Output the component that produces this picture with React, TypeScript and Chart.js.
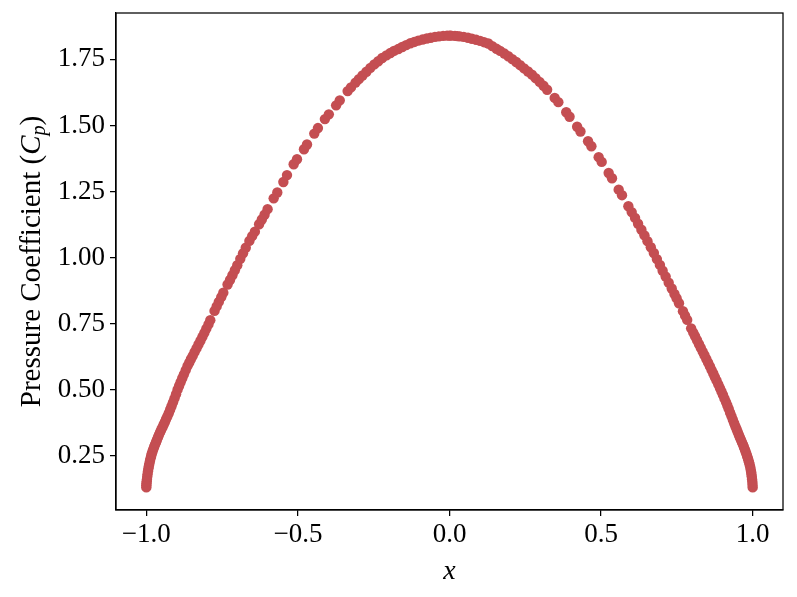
import React, { useEffect, useRef } from "react";
import { Chart, registerables } from "chart.js";

Chart.register(...registerables);

// Left half of the curve (x from -1 towards 0)
const X_LEFT = [
  -1.0, -0.9995, -0.998, -0.996, -0.993, -0.99, -0.986, -0.982, -0.977, -0.971,
  -0.965, -0.958, -0.951, -0.943, -0.935, -0.926, -0.917, -0.907, -0.897, -0.887,
  -0.876, -0.864, -0.853, -0.841, -0.828, -0.815, -0.802, -0.789, -0.775, -0.761,
  -0.746, -0.732, -0.716, -0.7, -0.69, -0.672, -0.66, -0.642, -0.628, -0.61,
  -0.6, -0.58, -0.568, -0.548, -0.536, -0.514, -0.503, -0.48, -0.47, -0.446,
  -0.434, -0.411, -0.398, -0.374, -0.362, -0.336, -0.325, -0.299, -0.287, -0.261,
  -0.248, -0.222, -0.208, -0.183, -0.169, -0.143, -0.129, -0.103, -0.089, -0.062,
  -0.048, -0.021, -0.008,
];
const CP_LEFT = [
  0.13, 0.145, 0.16, 0.18, 0.202, 0.22, 0.24, 0.258, 0.275, 0.293,
  0.31, 0.33, 0.348, 0.367, 0.388, 0.411, 0.437, 0.467, 0.5, 0.528,
  0.558, 0.59, 0.615, 0.642, 0.671, 0.7, 0.731, 0.763, 0.798, 0.832,
  0.867, 0.898, 0.933, 0.971, 0.995, 1.037, 1.063, 1.098, 1.126, 1.162,
  1.183, 1.224, 1.246, 1.286, 1.312, 1.353, 1.372, 1.41, 1.428, 1.469,
  1.49, 1.524, 1.542, 1.576, 1.595, 1.63, 1.644, 1.675, 1.689, 1.718,
  1.731, 1.755, 1.765, 1.782, 1.789, 1.804, 1.811, 1.821, 1.825, 1.832,
  1.835, 1.839, 1.84,
];

// Right half of the curve (x from 0 towards 1)
const X_RIGHT = [
  0.005, 0.018, 0.034, 0.047, 0.074, 0.088, 0.114, 0.128, 0.155, 0.167,
  0.194, 0.207, 0.233, 0.246, 0.272, 0.284, 0.31, 0.322, 0.347, 0.359,
  0.385, 0.396, 0.421, 0.432, 0.457, 0.468, 0.492, 0.502, 0.525, 0.536,
  0.558, 0.569, 0.59, 0.601, 0.622, 0.633, 0.653, 0.664, 0.684, 0.694,
  0.713, 0.723, 0.742, 0.757, 0.77, 0.784, 0.797, 0.81, 0.823, 0.835,
  0.847, 0.859, 0.87, 0.881, 0.892, 0.902, 0.912, 0.921, 0.93, 0.939,
  0.947, 0.954, 0.961, 0.968, 0.974, 0.979, 0.984, 0.988, 0.992, 0.995,
  0.997, 0.999, 1.0,
];
const CP_RIGHT = [
  1.84, 1.839, 1.837, 1.835, 1.828, 1.824, 1.815, 1.81, 1.79, 1.782,
  1.762, 1.751, 1.728, 1.716, 1.692, 1.679, 1.65, 1.635, 1.604, 1.588,
  1.55, 1.533, 1.495, 1.477, 1.44, 1.421, 1.38, 1.362, 1.32, 1.3,
  1.257, 1.236, 1.194, 1.172, 1.128, 1.105, 1.062, 1.039, 0.994, 0.972,
  0.928, 0.905, 0.862, 0.827, 0.797, 0.764, 0.732, 0.702, 0.672, 0.644,
  0.616, 0.588, 0.561, 0.534, 0.506, 0.48, 0.453, 0.427, 0.4, 0.373,
  0.35, 0.33, 0.311, 0.292, 0.274, 0.258, 0.241, 0.225, 0.207, 0.188,
  0.17, 0.15, 0.13,
];

// Additional samples where the reference points are packed tightly
const X_EXTRA = [
  -0.9998, -0.9988, -0.997, -0.9945, -0.9915, -0.988, -0.984, -0.9795, -0.974, -0.968,
  -0.9615, -0.9545, -0.947, -0.939, -0.9305, -0.9215, -0.912, -0.902, -0.892, -0.8815,
  -0.87, -0.8585, -0.847, -0.8345, -0.8215, -0.8085,
  -0.795, -0.768, -0.753, -0.724, -0.708, -0.681, -0.651, -0.619,
  -0.31, -0.274,
  -0.235, -0.195, -0.156, -0.116, -0.075, -0.035, 0.0, 0.026, 0.061, 0.101, 0.141, 0.181, 0.22,
  0.259, 0.297,
  0.612, 0.643, 0.674, 0.703, 0.733, 0.749, 0.777, 0.804,
  0.8165, 0.829, 0.841, 0.853, 0.8645, 0.8755, 0.8865, 0.897, 0.907, 0.9165,
  0.9255, 0.9345, 0.943, 0.9505, 0.9575, 0.9645, 0.971, 0.9765, 0.9815, 0.986,
  0.99, 0.9935, 0.996, 0.998, 0.9995,
];
const CP_EXTRA = [
  0.138, 0.152, 0.17, 0.191, 0.211, 0.23, 0.249, 0.266, 0.284, 0.301,
  0.32, 0.339, 0.357, 0.377, 0.399, 0.424, 0.452, 0.483, 0.514, 0.543,
  0.574, 0.602, 0.628, 0.656, 0.685, 0.715,
  0.747, 0.815, 0.85, 0.915, 0.952, 1.016, 1.081, 1.144,
  1.662, 1.703,
  1.743, 1.774, 1.797, 1.816, 1.829, 1.837, 1.84, 1.838, 1.832, 1.82, 1.8, 1.772, 1.74,
  1.704, 1.665,
  1.15, 1.084, 1.017, 0.95, 0.883, 0.846, 0.78, 0.716,
  0.687, 0.658, 0.63, 0.602, 0.574, 0.547, 0.52, 0.493, 0.466, 0.44,
  0.413, 0.386, 0.361, 0.34, 0.32, 0.301, 0.283, 0.266, 0.249, 0.233,
  0.216, 0.197, 0.179, 0.16, 0.14,
];

const X_TICKS = [-1.0, -0.5, 0.0, 0.5, 1.0];
const Y_TICKS = [0.25, 0.5, 0.75, 1.0, 1.25, 1.5, 1.75];

const FONT = '"Liberation Serif", "Times New Roman", serif';
const POINT_COLOR = "#c44e52";

const fmt = (v: number, d: number) => {
  const s = Math.abs(v).toFixed(d);
  return v < -1e-9 ? "\u2212" + s : s;
};

const titlePlugin = {
  id: "frameAndTitles",
  afterDraw(chart: any) {
    const { ctx, chartArea } = chart;
    const { left, top, right, bottom } = chartArea;
    ctx.save();
    ctx.strokeStyle = "#000";
    ctx.lineWidth = 1.25;
    ctx.strokeRect(left, top, right - left, bottom - top);

    // x axis title
    ctx.fillStyle = "#000";
    ctx.font = `italic 28px ${FONT}`;
    ctx.textAlign = "center";
    ctx.textBaseline = "alphabetic";
    ctx.fillText("x", (left + right) / 2, 579);

    // y axis title with italic C and subscript p
    const parts = [
      { t: "Pressure Coefficient (", f: `29px ${FONT}`, dy: 0 },
      { t: "C", f: `italic 29px ${FONT}`, dy: 0 },
      { t: "p", f: `italic 20px ${FONT}`, dy: 5 },
      { t: ")", f: `29px ${FONT}`, dy: 0 },
    ];
    let total = 0;
    const widths: number[] = [];
    for (const p of parts) {
      ctx.font = p.f;
      const w = ctx.measureText(p.t).width;
      widths.push(w);
      total += w;
    }
    ctx.translate(40, (top + bottom) / 2);
    ctx.rotate(-Math.PI / 2);
    ctx.textAlign = "left";
    let x = -total / 2;
    parts.forEach((p, i) => {
      ctx.font = p.f;
      ctx.fillText(p.t, x, p.dy);
      x += widths[i];
    });
    ctx.restore();
  },
};

export default function App() {
  const canvasRef = useRef<HTMLCanvasElement | null>(null);

  useEffect(() => {
    const canvas = canvasRef.current;
    if (!canvas) return;
    const data = [
      ...X_LEFT.map((x, i) => ({ x, y: CP_LEFT[i] })),
      ...X_RIGHT.map((x, i) => ({ x, y: CP_RIGHT[i] })),
      ...X_EXTRA.map((x, i) => ({ x, y: CP_EXTRA[i] })),
    ];
    const chart = new Chart(canvas, {
      type: "scatter",
      data: {
        datasets: [
          {
            data,
            backgroundColor: POINT_COLOR,
            borderColor: POINT_COLOR,
            borderWidth: 0,
            pointRadius: 5.2,
            pointHoverRadius: 5.2,
          },
        ],
      },
      options: {
        animation: false,
        responsive: false,
        maintainAspectRatio: false,
        layout: { padding: { left: 0, top: 13, right: 14, bottom: 0 } },
        plugins: {
          legend: { display: false },
          tooltip: { enabled: false },
        },
        scales: {
          x: {
            type: "linear",
            min: -1.1,
            max: 1.1,
            border: { display: true, color: "#000", width: 1.25 },
            grid: {
              display: true,
              drawOnChartArea: false,
              drawTicks: true,
              tickLength: 6,
              color: "#000",
              lineWidth: 1.25,
            },
            ticks: {
              color: "#000",
              font: { family: FONT, size: 27 },
              padding: 3,
              maxRotation: 0,
              callback: (v: any) => fmt(Number(v), 1),
            },
            afterBuildTicks: (scale: any) => {
              scale.ticks = X_TICKS.map((value) => ({ value }));
            },
            afterFit: (scale: any) => {
              scale.height = 87;
              scale.paddingLeft = 0;
              scale.paddingRight = 0;
            },
          },
          y: {
            type: "linear",
            min: 0.0445,
            max: 1.9255,
            border: { display: true, color: "#000", width: 1.25 },
            grid: {
              display: true,
              drawOnChartArea: false,
              drawTicks: true,
              tickLength: 6,
              color: "#000",
              lineWidth: 1.25,
            },
            ticks: {
              color: "#000",
              font: { family: FONT, size: 27 },
              padding: 5,
              callback: (v: any) => fmt(Number(v), 2),
            },
            afterBuildTicks: (scale: any) => {
              scale.ticks = Y_TICKS.map((value) => ({ value }));
            },
            afterFit: (scale: any) => {
              scale.width = 116;
              scale.paddingTop = 0;
              scale.paddingBottom = 0;
            },
          },
        },
      },
      plugins: [titlePlugin],
    });
    return () => chart.destroy();
  }, []);

  return (
    <div style={{ position: "absolute", left: 0, top: 0, width: 797, height: 597, background: "#fff" }}>
      <canvas ref={canvasRef} width={797} height={597} style={{ width: 797, height: 597, display: "block" }} />
    </div>
  );
}
